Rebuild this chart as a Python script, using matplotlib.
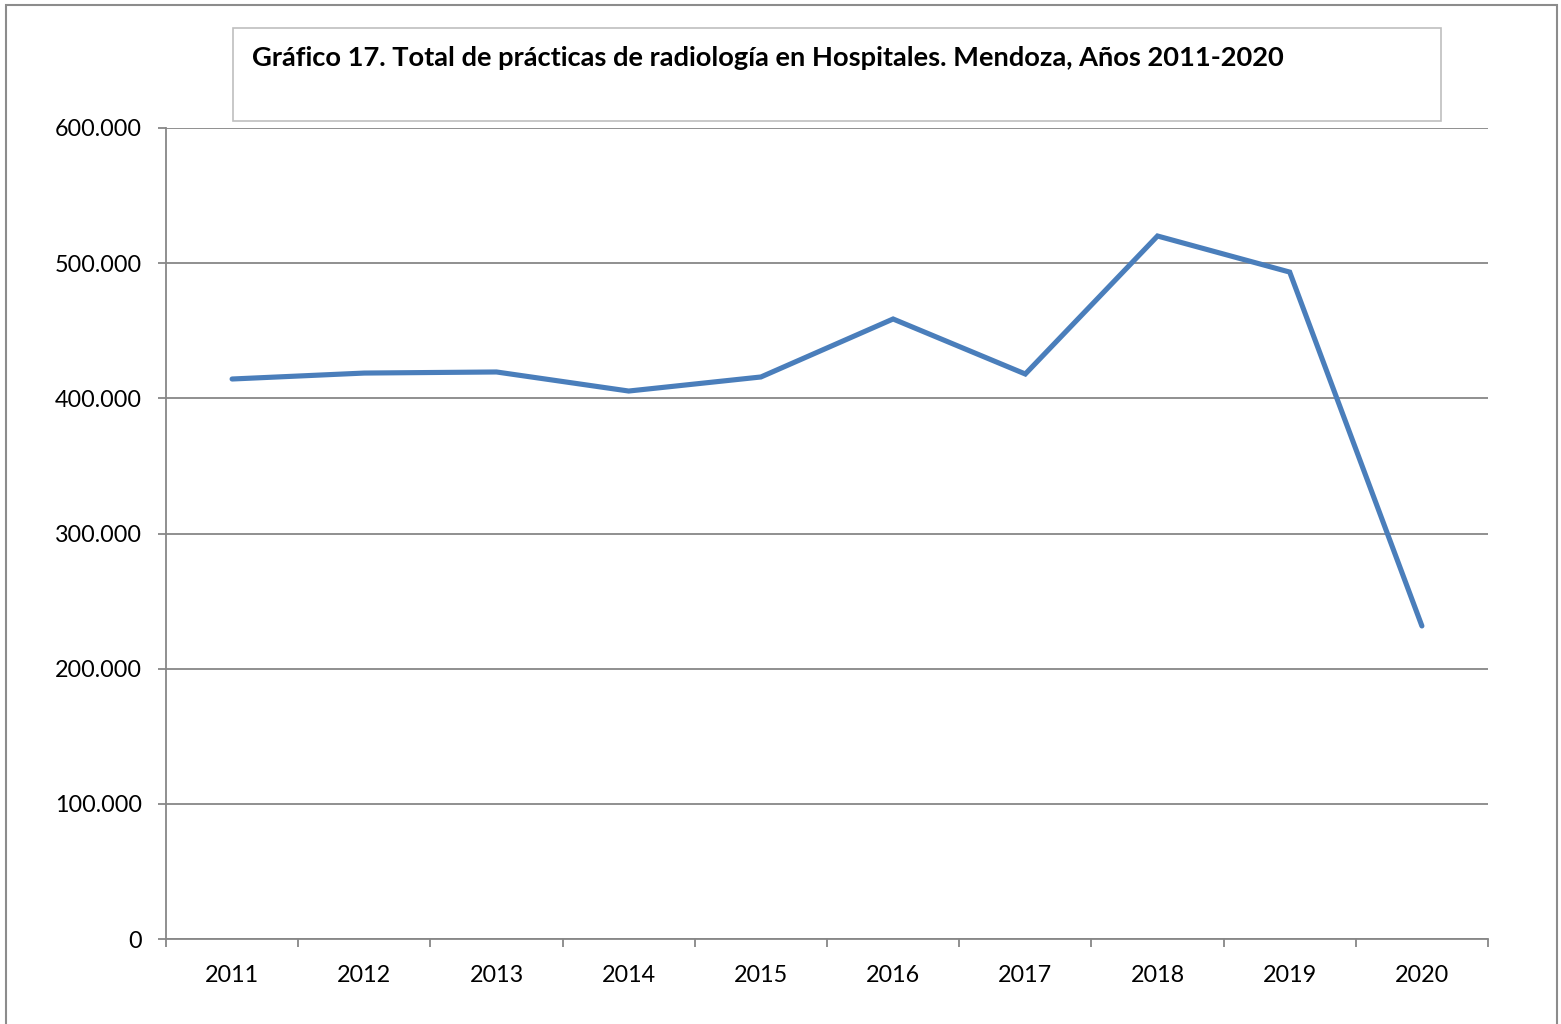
import matplotlib
matplotlib.use("Agg")
import matplotlib.pyplot as plt
from matplotlib.patches import Rectangle
from matplotlib.ticker import FixedLocator, FuncFormatter

years = ["2011", "2012", "2013", "2014", "2015", "2016", "2017", "2018", "2019", "2020"]
practicas = [414300, 418700, 419500, 405400, 415800, 458700, 418000, 520100, 493400, 231600]
yticks = [0, 100000, 200000, 300000, 400000, 500000, 600000]
title = "Gráfico 17. Total de prácticas de radiología en Hospitales. Mendoza, Años 2011-2020"

plt.rcParams['font.family'] = ['Lato', 'DejaVu Sans']
W, H = 1561, 1024
fig = plt.figure(figsize=(W / 100, H / 100), dpi=100)

# outer chart border (bottom edge lies outside the image, as in the reference)
fig.patches.append(Rectangle((6 / W, -10 / H), (1551 / W), (1029 / H), transform=fig.transFigure,
                             fill=False, edgecolor="#8c8c8c", linewidth=1.5))
# title box
fig.patches.append(Rectangle((233 / W, 1 - 121 / H), (1208 / W), (93 / H), transform=fig.transFigure,
                             fill=False, edgecolor="#bfbfbf", linewidth=1.2))
fig.text(252 / W, 1 - 58 / H, title, fontsize=19.6, fontweight="bold", va="center", ha="left")

ax = fig.add_axes([166 / W, (1024 - 939) / H, (1488 - 166) / W, (939 - 128) / H])
x = list(range(len(years)))
ax.plot(x, practicas, color="#4A7EBB", linewidth=3.7, solid_capstyle="round", solid_joinstyle="miter", zorder=3)

ax.set_xlim(-0.5, len(years) - 0.5)
ax.set_ylim(0, 600000)
ax.set_yticks(yticks)
ax.yaxis.set_major_formatter(FuncFormatter(lambda v, p: f"{int(v):,}".replace(",", ".")))
ax.grid(axis="y", color="#878787", linewidth=1.3)
ax.set_axisbelow(True)

ax.xaxis.set_major_locator(FixedLocator([i - 0.5 for i in range(len(years) + 1)]))
ax.xaxis.set_major_formatter(FuncFormatter(lambda v, p: ""))
ax.xaxis.set_minor_locator(FixedLocator(x))
ax.set_xticklabels(years, minor=True)
ax.tick_params(axis="x", which="major", length=5.5, width=1.3, color="#878787", direction="out")
ax.tick_params(axis="x", which="minor", length=0, pad=19, labelsize=16.8)
ax.tick_params(axis="y", length=5.5, width=1.3, color="#878787", labelsize=16.8, pad=12)

for s in ["top", "right"]:
    ax.spines[s].set_visible(False)
for s in ["left", "bottom"]:
    ax.spines[s].set_color("#878787")
    ax.spines[s].set_linewidth(1.3)

fig.savefig("out.png", dpi=100)
